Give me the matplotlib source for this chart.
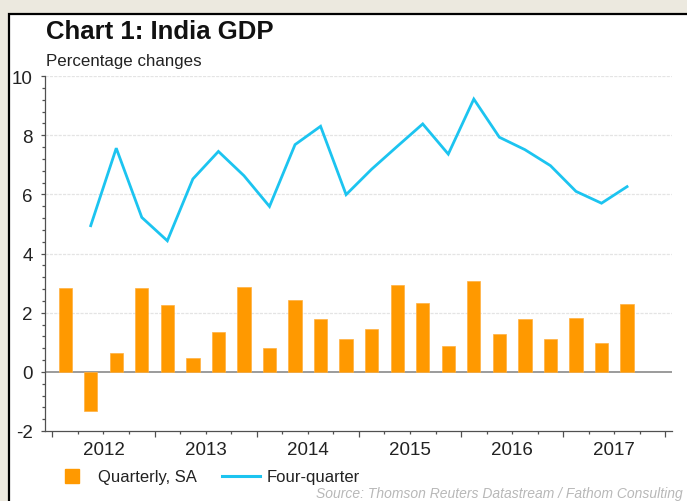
import numpy as np
import matplotlib
matplotlib.use("Agg")
import matplotlib.pyplot as plt
from matplotlib.patches import Rectangle
from matplotlib.lines import Line2D

plt.rcParams['font.family'] = ['Liberation Sans', 'DejaVu Sans']

# ---- data ----
quarters = ['2012Q1', '2012Q2', '2012Q3', '2012Q4',
            '2013Q1', '2013Q2', '2013Q3', '2013Q4',
            '2014Q1', '2014Q2', '2014Q3', '2014Q4',
            '2015Q1', '2015Q2', '2015Q3', '2015Q4',
            '2016Q1', '2016Q2', '2016Q3', '2016Q4',
            '2017Q1', '2017Q2', '2017Q3']
quarterly_sa = [2.82, -1.34, 0.64, 2.82,
                2.27, 0.46, 1.33, 2.88,
                0.79, 2.42, 1.77, 1.12,
                1.44, 2.93, 2.31, 0.86,
                3.07, 1.27, 1.77, 1.12,
                1.83, 0.97, 2.29]
four_quarter = [np.nan, 4.94, 7.56, 5.22,
                4.43, 6.52, 7.45, 6.63,
                5.59, 7.68, 8.30, 5.99,
                6.85, 7.62, 8.38, 7.36,
                9.22, 7.93, 7.51, 6.97,
                6.10, 5.70, 6.26]
year_labels = ['2012', '2013', '2014', '2015', '2016', '2017']

W, H = 687, 502
fig = plt.figure(figsize=(W / 100, H / 100), dpi=100)
fig.patch.set_facecolor('#ECE9DF')

# white panel with black border
panel = Rectangle((8.5 / W, -20 / H), 720 / W, (H - 14.5 + 20) / H,
                  transform=fig.transFigure, facecolor='white',
                  edgecolor='black', linewidth=1.6, zorder=-5)
fig.patches.append(panel)

left, right, top, bottom = 45, 672, 77, 432
ax = fig.add_axes([left / W, (H - bottom) / H, (right - left) / W, (bottom - top) / H])
ax.set_zorder(2)
ax.patch.set_alpha(0)

x = np.arange(len(quarters)) + 0.5
bar_color = '#FF9900'
line_color = '#1CC4F0'

ax.bar(x, quarterly_sa, width=0.52, color=bar_color, edgecolor='#FFB040',
       linewidth=0.5, zorder=3)
ax.plot(x, four_quarter, color=line_color, linewidth=2.0, zorder=4,
        solid_joinstyle='miter')

ax.set_ylim(-2, 10)
ax.set_xlim(-0.29, 24.26)

# grid
for yv in [2, 4, 6, 8, 10]:
    ax.axhline(yv, color='#E4E4E4', linewidth=0.9, linestyle=(0, (2.5, 1)), zorder=1)
ax.axhline(0, color='#8A8A8A', linewidth=1.2, zorder=2)

# spines
for s in ['top', 'right']:
    ax.spines[s].set_visible(False)
for s in ['left', 'bottom']:
    ax.spines[s].set_color('#505050')
    ax.spines[s].set_linewidth(0.9)

# y ticks
ax.set_yticks(np.arange(-2, 11, 2))
ax.set_yticklabels(['-2', '0', '2', '4', '6', '8', '10'])
ax.yaxis.set_minor_locator(matplotlib.ticker.AutoMinorLocator(5))
ax.tick_params(axis='y', which='major', length=3.2, width=0.9, color='#505050',
               labelsize=13.5, pad=5.5, labelcolor='#222222')
ax.tick_params(axis='y', which='minor', length=2.0, width=0.9, color='#505050')

# x ticks: year boundaries major, quarters minor, year labels at year centers
n_years = len(year_labels)
ax.set_xticks(np.arange(0, 4 * n_years + 1, 4))
ax.set_xticklabels([''] * (n_years + 1))
minor_pos = [q for q in range(4 * n_years) if q % 4 != 0]
minor_lab = [year_labels[q // 4] if q % 4 == 2 else '' for q in minor_pos]
ax.set_xticks(minor_pos, minor=True)
ax.set_xticklabels(minor_lab, minor=True)
ax.tick_params(axis='x', which='major', length=4.0, width=0.9, color='#505050')
ax.tick_params(axis='x', which='minor', length=2.5, width=0.9, color='#505050',
               labelsize=13.5, pad=5.0, labelcolor='#222222')

# titles
fig.text(46.5 / W, (H - 39) / H, 'Chart 1: India GDP', fontsize=18.5,
         fontweight='bold', ha='left', va='baseline', color='#111111')
fig.text(46.5 / W, (H - 66) / H, 'Percentage changes', fontsize=12.2,
         ha='left', va='baseline', color='#222222')

# legend
handles = [Line2D([], [], marker='s', markersize=10, linestyle='none',
                  color=bar_color, markeredgecolor=bar_color),
           Line2D([], [], color=line_color, linewidth=2.2)]
fig.legend(handles, ['Quarterly, SA', 'Four-quarter'], ncol=2,
           loc='center left', bbox_to_anchor=(52.5 / W, (H - 478) / H),
           frameon=False, fontsize=12, handlelength=2.3, handletextpad=0.42,
           columnspacing=1.5, borderpad=0, borderaxespad=0,
           labelcolor='#222222')

# source, placed at the bottom-right edge
fig.text(683 / W, 1 / H, 'Source: Thomson Reuters Datastream / Fathom Consulting',
         fontsize=10, style='italic', color='#B8B8B8', ha='right', va='bottom')

fig.savefig('out.png', dpi=100)
